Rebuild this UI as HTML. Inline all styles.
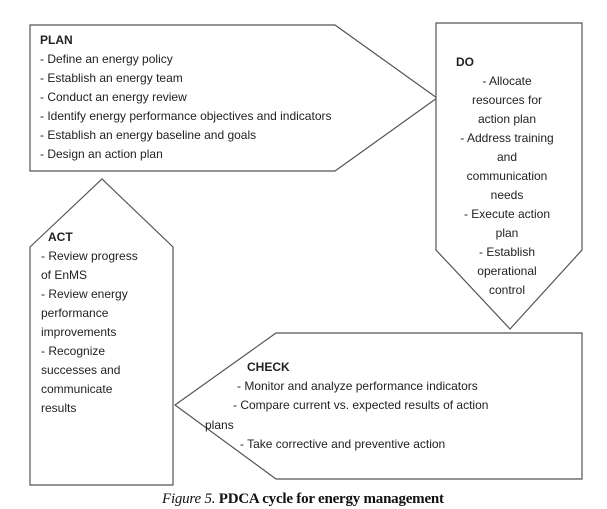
<!DOCTYPE html>
<html><head><meta charset="utf-8"><style>
html,body{margin:0;padding:0;background:#fff;}
svg{display:block;}
text{font-family:"Liberation Sans",sans-serif;font-size:12px;fill:#222;}
.b{font-weight:bold;}
.c{text-anchor:middle;}
</style></head><body>
<svg width="607" height="509" viewBox="0 0 607 509" xmlns="http://www.w3.org/2000/svg">
<g fill="#fff" stroke="#555" stroke-width="1.2">
<polygon points="30,25 335,25 437,98 335,171 30,171"/>
<polygon points="436,23 582,23 582,250 510,329 436,250"/>
<polygon points="30,247 102,179 173,247 173,485 30,485"/>
<polygon points="276,333 582,333 582,479 276,479 175,405"/>
</g>
<text x="40" y="44" class="b">PLAN</text>
<text x="40" y="63">- Define an energy policy</text>
<text x="40" y="82">- Establish an energy team</text>
<text x="40" y="101">- Conduct an energy review</text>
<text x="40" y="120">- Identify energy performance objectives and indicators</text>
<text x="40" y="139">- Establish an energy baseline and goals</text>
<text x="40" y="158">- Design an action plan</text>

<text x="456" y="66" class="b">DO</text>
<text x="507" y="85" class="c">- Allocate</text>
<text x="507" y="104" class="c">resources for</text>
<text x="507" y="123" class="c">action plan</text>
<text x="507" y="142" class="c">- Address training</text>
<text x="507" y="161" class="c">and</text>
<text x="507" y="180" class="c">communication</text>
<text x="507" y="199" class="c">needs</text>
<text x="507" y="218" class="c">- Execute action</text>
<text x="507" y="237" class="c">plan</text>
<text x="507" y="256" class="c">- Establish</text>
<text x="507" y="275" class="c">operational</text>
<text x="507" y="294" class="c">control</text>

<text x="48" y="241" class="b">ACT</text>
<text x="41" y="260">- Review progress</text>
<text x="41" y="279">of EnMS</text>
<text x="41" y="298">- Review energy</text>
<text x="41" y="317">performance</text>
<text x="41" y="336">improvements</text>
<text x="41" y="355">- Recognize</text>
<text x="41" y="374">successes and</text>
<text x="41" y="393">communicate</text>
<text x="41" y="412">results</text>

<text x="247" y="371" class="b">CHECK</text>
<text x="237" y="390">- Monitor and analyze performance indicators</text>
<text x="233" y="409">- Compare current vs. expected results of action</text>
<text x="205" y="429">plans</text>
<text x="240" y="448">- Take corrective and preventive action</text>

<text x="162" y="503" textLength="282" lengthAdjust="spacing" style="font-family:'Liberation Serif',serif;font-size:15px;fill:#111"><tspan font-style="italic">Figure 5.</tspan> <tspan font-weight="bold">PDCA cycle for energy management</tspan></text>
</svg>
</body></html>
